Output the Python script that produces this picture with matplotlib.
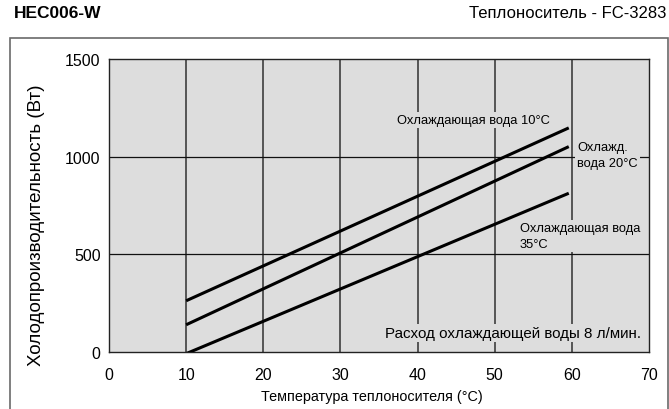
import matplotlib
matplotlib.use("Agg")
import matplotlib.pyplot as plt
from matplotlib.patches import Rectangle

# ---- data ----
temps_10 = [10, 59.6]
cap_10 = [261, 1147]
temps_20 = [10, 59.6]
cap_20 = [138, 1051]
temps_35 = [10, 59.6]
cap_35 = [-10, 812]

x_ticks = [0, 10, 20, 30, 40, 50, 60, 70]
y_ticks = [0, 500, 1000, 1500]

title_left = "HEC006-W"
title_right = "Теплоноситель - FC-3283"
xlabel = "Температура теплоносителя (°C)"
ylabel = "Холодопроизводительность (Вт)"
lbl_10 = "Охлаждающая вода 10°C"
lbl_20 = "Охлажд.\nвода 20°C"
lbl_35 = "Охлаждающая вода\n35°C"
lbl_flow = "Расход охлаждающей воды 8 л/мин."

REG = ["Liberation Sans", "DejaVu Sans"]

W, H = 669, 410
fig = plt.figure(figsize=(W / 100, H / 100), dpi=100)

def px(x, y):
    return x / W, 1 - y / H

# outer frame
fig.patches.append(Rectangle(px(10, 420), 658 / W, 381 / H, transform=fig.transFigure,
                             fill=False, edgecolor="#6a6a6a", lw=1.2))

l, b = px(109, 352.7)
r, t = px(649, 60)
ax = fig.add_axes([l, b, r - l, t - b])
bg = "#dddddd"
ax.set_facecolor(bg)
ax.set_xlim(0, 70)
ax.set_ylim(0, 1500)
ax.set_xticks(x_ticks)
ax.set_yticks(y_ticks)
for xv in x_ticks[1:-1]:
    ax.axvline(xv, color="#4a4a4a", lw=1.3, zorder=1)
for yv in y_ticks[1:-1]:
    ax.axhline(yv, color="#111111", lw=0.9, zorder=1)
for s in ax.spines.values():
    s.set_color("#222222")
    s.set_linewidth(1.0)
ax.tick_params(axis="x", length=0, pad=11, labelsize=11.5)
ax.tick_params(axis="y", length=0, pad=6, labelsize=11.5)
for lab in ax.get_xticklabels() + ax.get_yticklabels():
    lab.set_family(REG)

for xs, ys in [(temps_10, cap_10), (temps_20, cap_20), (temps_35, cap_35)]:
    ax.plot(xs, ys, color="black", lw=2.2, solid_capstyle="butt", zorder=3)

box = dict(facecolor=bg, edgecolor="none", pad=1.5)
ax.text(0.533, 0.793, lbl_10, transform=ax.transAxes, ha="left", va="center",
        fontsize=9.3, family=REG, bbox=box, zorder=4)
ax.text(0.867, 0.672, lbl_20, transform=ax.transAxes, ha="left", va="center",
        fontsize=9.3, family=REG, bbox=box, zorder=4, linespacing=1.35)
ax.text(0.761, 0.396, lbl_35, transform=ax.transAxes, ha="left", va="center",
        fontsize=9.3, family=REG, bbox=box, zorder=4, linespacing=1.4)
ax.text(0.985, 0.064, lbl_flow, transform=ax.transAxes, ha="right", va="center",
        fontsize=10.9, family=REG, bbox=box, zorder=4)

fig.text(*px(372, 397), xlabel, ha="center", va="center", fontsize=10.4, family=REG)
fig.text(*px(37, 225), ylabel, ha="center", va="center", rotation=90, fontsize=13.5, family=REG)

fig.text(*px(14, 14), title_left, ha="left", va="center", fontsize=12.5,
         family=REG, weight="bold")
fig.text(*px(666, 14), title_right, ha="right", va="center", fontsize=12, family=REG)

fig.savefig("out.png", dpi=100)
